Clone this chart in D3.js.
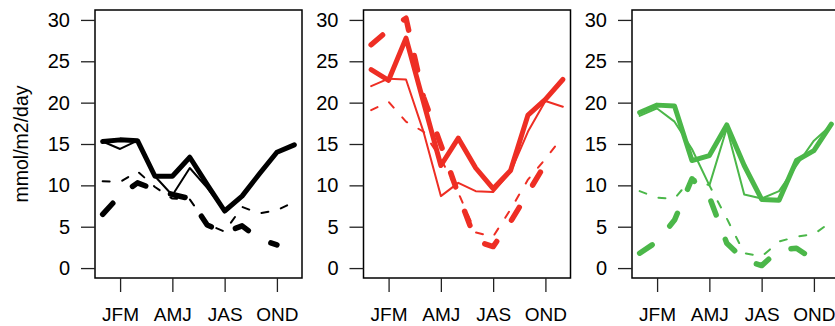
<!DOCTYPE html>
<html>
<head>
<meta charset="utf-8">
<script src="https://cdn.jsdelivr.net/npm/d3@7"></script>
<style>
  body { margin: 0; background: #fff; }
  svg text { font-family: "Liberation Sans", Arial, Helvetica, sans-serif; }
</style>
</head>
<body>
<svg id="chart" width="835" height="326"></svg>
<script>
// monthly flux, three regions, four series each (month 1..12)
const months = d3.range(1, 13);
const tickMonths = [2, 5, 8, 11];
const tickLabels = ['JFM', 'AMJ', 'JAS', 'OND'];
const yTicks = [0, 5, 10, 15, 20, 25, 30];
const yTitle = 'mmol/m2/day';

// black panel
const blackThickSolid = [15.3, 15.5, 15.4, 11.1, 11.1, 13.4, 10.1, 6.9, 8.7, 11.4, 14.0, 14.9];
const blackThinSolid = [15.3, 14.4, 15.4, 11.1, 8.8, 12.1, 9.7, 6.9, 8.7, 11.4, 14.0, 14.9];
const blackThinDashed = [10.5, 10.4, 11.7, 9.8, 8.4, 8.3, 5.3, 4.4, 7.4, 6.6, 7.0, 8.0];
const blackThickDashed = [6.5, 8.8, 10.3, 9.5, 8.9, 8.4, 5.2, 4.3, 5.1, 3.5, 2.8, null];

// red panel
const redThickSolid = [24.0, 22.7, 27.8, 20.1, 12.4, 15.7, 12.1, 9.6, 11.8, 18.5, 20.4, 22.8];
const redThinSolid = [22.0, 22.9, 22.8, 16.5, 8.7, 10.3, 9.3, 9.2, 11.6, 16.5, 20.2, 19.5];
const redThinDashed = [19.1, 20.1, 17.7, 16.5, 13.2, 9.1, 4.3, 3.8, 7.1, 10.7, 13.2, 15.9];
const redThickDashed = [27.0, 28.8, 30.2, 20.7, 14.9, 8.9, 3.3, 2.6, 5.6, 9.1, 12.6, null];

// green panel
const greenThickSolid = [18.8, 19.7, 19.6, 13.0, 13.6, 17.3, 12.4, 8.3, 8.2, 13.0, 14.2, 17.4];
const greenThinSolid = [18.4, 19.3, 17.7, 14.4, 10.0, 16.9, 8.9, 8.4, 9.3, 12.4, 15.4, 17.3];
const greenThinDashed = [9.3, 8.5, 8.4, 10.9, 10.0, 6.0, 1.8, 1.4, 3.2, 3.8, 4.1, 5.6];
const greenThickDashed = [1.8, 3.2, 5.8, 10.8, 8.6, 3.0, 1.0, 0.3, 2.2, 2.4, 1.0, null];

const panels = [
    { color: '#000000', series: [blackThickSolid, blackThinSolid, blackThinDashed, blackThickDashed] },
    { color: '#ee2e24', series: [redThickSolid, redThinSolid, redThinDashed, redThickDashed] },
    { color: '#4bb749', series: [greenThickSolid, greenThinSolid, greenThinDashed, greenThickDashed] }
];

// line styles, same order as series
const styles = [
    { width: 5, dash: null },
    { width: 2, dash: null },
    { width: 2, dash: '7 13' },
    { width: 5.5, dash: '15 26' }
];

const svg = d3.select('#chart');
const panelW = 207, panelTop = 10, panelBottom = 278;
const firstLeft = 95, panelStep = 268.5;

// R style axis range: data range plus 4% each side
const x = d3.scaleLinear().domain([0.56, 12.44]).range([0, panelW]);
const y = d3.scaleLinear().domain([-1.2, 31.2]).range([panelBottom, panelTop]);

const line = d3.line()
    .defined(d => d.v != null)
    .x(d => x(d.m))
    .y(d => y(d.v));

panels.forEach((p, i) => {
    const g = svg.append('g')
        .attr('transform', `translate(${firstLeft + i * panelStep},0)`);

    // series
    p.series.forEach((vals, k) => {
        const pts = months.map((m, j) => ({ m: m, v: vals[j] }));
        g.append('path')
            .attr('d', line(pts))
            .attr('fill', 'none')
            .attr('stroke', p.color)
            .attr('stroke-width', styles[k].width)
            .attr('stroke-linecap', 'round')
            .attr('stroke-linejoin', 'round')
            .attr('stroke-dasharray', styles[k].dash);
    });

    // box
    g.append('rect')
        .attr('x', 0).attr('y', panelTop)
        .attr('width', panelW).attr('height', panelBottom - panelTop)
        .attr('fill', 'none')
        .attr('stroke', '#000')
        .attr('stroke-width', 1.5);

    // y axis
    const ya = g.append('g')
        .call(d3.axisLeft(y).tickValues(yTicks).tickSize(14).tickPadding(11));
    ya.select('.domain').remove();
    ya.selectAll('text').style('font-size', '20px');

    // x axis
    const xa = g.append('g')
        .attr('transform', `translate(0,${panelBottom})`)
        .call(d3.axisBottom(x).tickValues(tickMonths)
            .tickFormat((d, j) => tickLabels[j])
            .tickSize(14).tickPadding(15.5));
    xa.select('.domain').remove();
    xa.selectAll('text').style('font-size', '19px');

    g.selectAll('.tick line').attr('stroke', '#222').attr('stroke-width', 1.3);
    g.selectAll('.tick text')
        .attr('fill', '#000')
        .style('font-family', '"Liberation Sans", Arial, Helvetica, sans-serif');
});

// y title on the first panel
svg.append('text')
    .attr('transform', `translate(21,${(panelTop + panelBottom) / 2}) rotate(-90)`)
    .attr('text-anchor', 'middle')
    .attr('dy', '0.35em')
    .style('font-size', '19.5px')
    .text(yTitle);
</script>
</body>
</html>
